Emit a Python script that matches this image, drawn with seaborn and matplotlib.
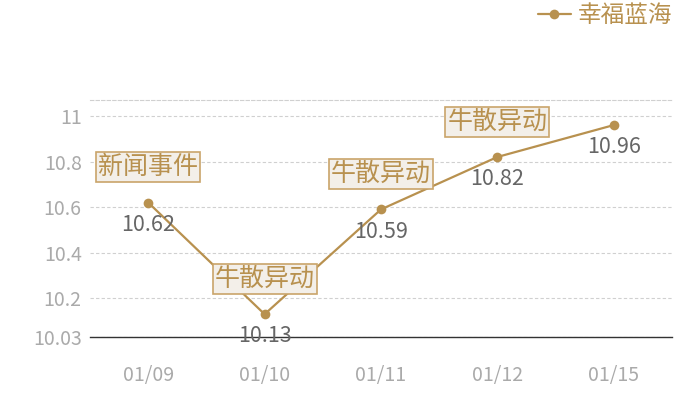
import pandas as pd
import matplotlib
matplotlib.use("Agg")
import matplotlib.pyplot as plt
import seaborn as sns

# data
dates = ["01/09", "01/10", "01/11", "01/12", "01/15"]
prices = [10.62, 10.13, 10.59, 10.82, 10.96]
events = ["新闻事件", "牛散异动", "牛散异动", "牛散异动", ""]
yticks = [10.03, 10.2, 10.4, 10.6, 10.8, 11]
ytick_labels = ["10.03", "10.2", "10.4", "10.6", "10.8", "11"]
series_name = "幸福蓝海"

df = pd.DataFrame({"date": dates, "price": prices})

sns.set_style("white")
plt.rcParams["font.family"] = ["Noto Sans CJK SC", "DejaVu Sans"]

gold = "#b8914f"

fig = plt.figure(figsize=(7, 4), dpi=100)
ax = fig.add_axes([90 / 700, 63 / 400, 582 / 700, 237 / 400])

sns.lineplot(data=df, x="date", y="price", ax=ax, color=gold, linewidth=1.6,
             marker="o", markersize=7, markeredgewidth=0, label=series_name)

ax.set_xlim(-0.5, len(dates) - 0.5)
ax.set_ylim(10.03, 11.07)
ax.set_yticks(yticks)
ax.set_yticklabels(ytick_labels)
ax.set_xlabel("")
ax.set_ylabel("")

ax.grid(axis="y", color="#d0d0d0", linestyle=(0, (3, 2)), linewidth=0.8)
for s in ["left", "right"]:
    ax.spines[s].set_visible(False)
ax.spines["top"].set_color("#d0d0d0")
ax.spines["top"].set_linestyle((0, (3, 2)))
ax.spines["top"].set_linewidth(0.8)
ax.spines["bottom"].set_color("#333333")
ax.spines["bottom"].set_linewidth(1.0)

ax.tick_params(axis="both", length=0, labelsize=14, colors="#aaaaaa")
ax.tick_params(axis="x", pad=20)
ax.tick_params(axis="y", pad=6)

# value labels under the points
for i, v in enumerate(prices):
    ax.annotate(f"{v:.2f}", (i, v), xytext=(0, -16), textcoords="offset points",
                ha="center", va="center", fontsize=15.5, color="#666666")

# event boxes above the points
for i, (v, ev) in enumerate(zip(prices, events)):
    if not ev:
        continue
    ax.annotate(ev, (i, v), xytext=(0, 25.5), textcoords="offset points",
                ha="center", va="center", fontsize=18, color=gold,
                bbox=dict(boxstyle="square,pad=0.08", fc="#f3efe9", ec="#c9a46a", lw=1.2),
                zorder=5)

leg = ax.legend(loc="upper right", bbox_to_anchor=(682 / 700, 405 / 400),
                bbox_transform=fig.transFigure, frameon=False, fontsize=17,
                handlelength=1.4, handletextpad=0.3, borderaxespad=0)
for t in leg.get_texts():
    t.set_color(gold)

fig.savefig("out.png", dpi=100)
